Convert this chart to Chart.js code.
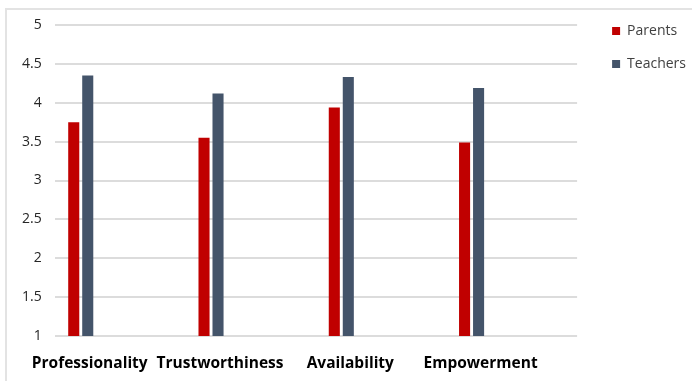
<!DOCTYPE html>
<html>
<head>
<meta charset="utf-8">
<script src="https://cdn.jsdelivr.net/npm/chart.js@4"></script>
<style>
    html, body {margin: 0; padding: 0; background: #ffffff;}
    .wrap {position: relative; width: 692px; height: 381px; overflow: hidden;}
    .frame {position: absolute; left: 5px; top: 8px; width: 700px; height: 390px; border: 2px solid #e3e3e3; box-sizing: border-box;}
    canvas {position: absolute; left: 0; top: 0;}
</style>
</head>
<body>
<div class="wrap">
    <div class="frame"></div>
    <canvas id="chart" width="692" height="381"></canvas>
</div>
<script>
    const categories = ['Professionality', 'Trustworthiness', 'Availability', 'Empowerment'];
    const parents = [3.75, 3.55, 3.94, 3.49];
    const teachers = [4.35, 4.12, 4.33, 4.19];
    const yTicks = [1, 1.5, 2, 2.5, 3, 3.5, 4, 4.5, 5];

    const font = '"Open Sans", "DejaVu Sans", sans-serif';
    const points = list => list.map((y, i) => ({x: i, y}));

    new Chart(document.getElementById('chart'), {
        type: 'bar',
        data: {
            datasets: [{
                label: 'Parents',
                data: points(parents),
                backgroundColor: '#c00000',
                borderWidth: 0,
                categoryPercentage: 0.215,
                barPercentage: 0.79
            }, {
                label: 'Teachers',
                data: points(teachers),
                backgroundColor: '#44546a',
                borderWidth: 0,
                categoryPercentage: 0.215,
                barPercentage: 0.79
            }]
        },
        options: {
            responsive: false,
            animation: false,
            layout: {padding: {left: 9, top: 5, right: -4, bottom: 0}},
            plugins: {
                tooltip: {enabled: false},
                // empty title only reserves the space above the plot, legend stays high
                title: {display: true, text: '', fullSize: false, font: {size: 10}, padding: {top: 0, bottom: 8}},
                legend: {
                    position: 'right',
                    align: 'start',
                    labels: {
                        boxWidth: 8,
                        boxHeight: 8,
                        padding: 19,
                        color: '#404040',
                        font: {family: font, size: 14}
                    }
                }
            },
            scales: {
                x: {
                    type: 'linear',
                    min: -0.2,
                    max: 3.81,
                    offset: false,
                    grid: {display: false},
                    border: {display: false},
                    ticks: {
                        stepSize: 1,
                        includeBounds: false,
                        autoSkip: false,
                        maxRotation: 0,
                        labelOffset: 9,
                        padding: 10,
                        color: '#000000',
                        font: {family: font, size: 15.5, weight: 'bold'},
                        callback: value => categories[value] ?? ''
                    },
                    afterFit: axis => { axis.height = 45; }
                },
                y: {
                    min: yTicks[0],
                    max: yTicks[yTicks.length - 1],
                    afterBuildTicks: axis => { axis.ticks = yTicks.map(value => ({value})); },
                    grid: {color: '#dcdcdc', lineWidth: 2, drawTicks: false},
                    border: {display: false},
                    ticks: {
                        padding: 13,
                        color: '#262626',
                        font: {family: font, size: 14},
                        callback: value => String(value)
                    }
                },
                gap: {
                    position: 'right',
                    display: true,
                    grid: {display: false},
                    border: {display: false},
                    ticks: {display: false},
                    afterFit: axis => { axis.width = 16; }
                }
            }
        }
    });
</script>
</body>
</html>
